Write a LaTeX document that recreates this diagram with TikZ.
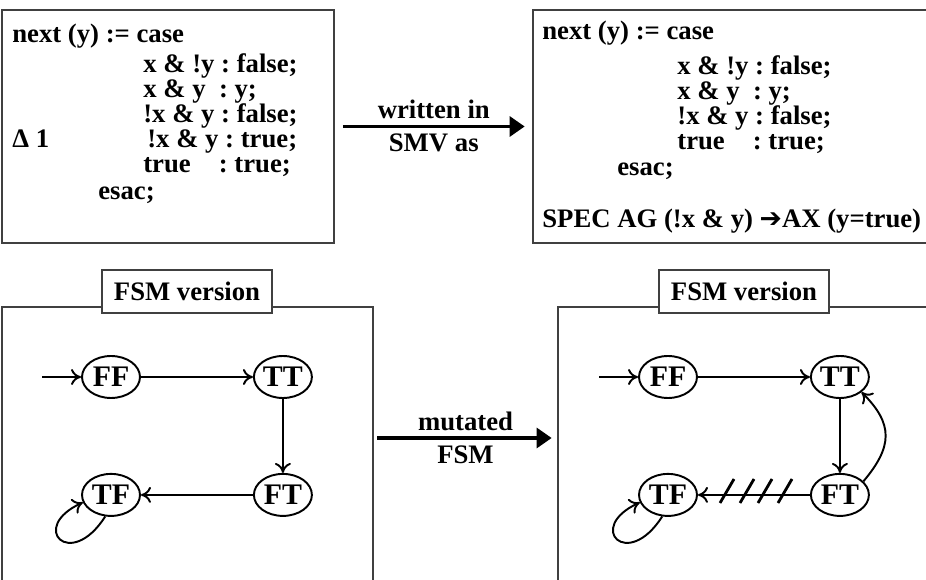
\documentclass[tikz,border=0pt]{standalone}
\usepackage{fontspec}
\setmainfont{Liberation Serif}
\newfontfamily\arrowfont{DejaVu Sans}
\usetikzlibrary{arrows.meta, positioning, shapes.geometric, fit}
\frenchspacing

\begin{document}
\begin{tikzpicture}[
    x=0.02cm, y=-0.02cm,
    font=\bfseries\fontsize{15.2}{18}\selectfont,
    code/.style={anchor=base west, inner sep=0pt},
    codebox/.style={draw=black!75, line width=1pt, inner sep=0pt},
    frame/.style={draw=black!75, line width=1pt},
    caption/.style={draw=black!75, line width=1pt, fill=white, minimum width=3.4cm, minimum height=0.86cm, inner sep=0pt},
    state/.style={ellipse, draw, line width=1.1pt, minimum width=1.16cm, minimum height=0.84cm, inner sep=0pt, font=\bfseries\fontsize{17}{20}\selectfont},
    edge/.style={line width=1.1pt, -{To[length=2mm, width=3.2mm]}},
    bigarrow/.style={line width=1.8pt, -{Triangle[length=3mm, width=4mm]}},
    hatch/.style={line width=1.6pt},
    node distance=1.48cm and 2.24cm
]
    \useasboundingbox (0,0) rectangle (926,580);
    \coordinate (bot) at (0,580);

    % SMV code, original and mutated
    \node[codebox, fit={(2,10) (334,243)}] (smvleft) {};
    \node[fit={(533,10) (926,243)}, inner sep=0pt] (smvright) {};
    \draw[frame] (smvright.north east) -- (smvright.north west) -- (smvright.south west) -- (smvright.south east);

    \node[code] (la1) at (12,43) {next (y) := case};
    \node[code] (la2) at (143,73) {x \& !y : false;};
    \node[code] (la3) at (143,98) {x \& y\ \ : y;};
    \node[code] (la4) at (143,123) {!x \& y : false;};
    \node[code] (delta) at (12,148) {Δ 1};
    \node[code] (la5) at (147,148) {!x \& y : true;};
    \node[code] (la6) at (143,173) {true\hspace{0.8em} : true;};
    \node[code] (la7) at (98,200) {esac;};

    \node[code] (lb1) at (542,40) {next (y) := case};
    \node[code] (lb2) at (677,75) {x \& !y : false;};
    \node[code] (lb3) at (677,100) {x \& y\ \ : y;};
    \node[code] (lb4) at (677,125) {!x \& y : false;};
    \node[code] (lb5) at (677,150) {true\hspace{0.8em} : true;};
    \node[code] (lb6) at (617,176) {esac;};
    \node[code] (spec) at (542,228) {SPEC AG (!x \& y) {\arrowfont\bfseries ➔}AX (y=true)};

    \draw[bigarrow, shorten <=0.16cm, shorten >=0.16cm] (smvleft) -- node[above] (written) {written in} node[below] (smvas) {SMV as} (smvright);

    % FSM panels
    \node[fit={(2,307) (373,569)}, inner sep=0pt] (fsmleft) {};
    \node[fit={(558,307) (926,569)}, inner sep=0pt] (fsmright) {};
    \draw[frame] (fsmleft.north west |- bot) -- (fsmleft.north west) -- (fsmleft.north east) -- (fsmleft.north east |- bot);
    \draw[frame] (fsmright.north west |- bot) -- (fsmright.north west) -- (fsmright.north east);
    \node[caption] (capleft) at (187,291.5) {FSM version};
    \node[caption] (capright) at (744,291.5) {FSM version};

    \draw[bigarrow, shorten <=0.08cm, shorten >=0.12cm] (fsmleft) -- node[above] (mutated) {mutated} node[below] (fsmlbl) {FSM} (fsmright);

    % original FSM
    \node[state] (ffl) at (111,377) {FF};
    \node[state, right=of ffl] (ttl) {TT};
    \node[state, below=of ttl] (ftl) {FT};
    \node[state, left=of ftl] (tfl) {TF};
    \coordinate[left=0.78cm of ffl] (initl);
    \draw[edge] (initl) -- (ffl);
    \draw[edge] (ffl) -- (ttl);
    \draw[edge] (ttl) -- (ftl);
    \draw[edge] (ftl) -- (tfl);
    \draw[edge] (tfl.255) .. controls +(-35,55) and +(-55,25) .. (tfl.195);

    % mutated FSM
    \node[state] (ffr) at (668,377) {FF};
    \node[state, right=of ffr] (ttr) {TT};
    \node[state, below=of ttr] (ftr) {FT};
    \node[state, left=of ftr] (tfr) {TF};
    \coordinate[left=0.78cm of ffr] (initr);
    \draw[edge] (initr) -- (ffr);
    \draw[edge] (ffr) -- (ttr);
    \draw[edge] (ttr) -- (ftr);
    \draw[edge] (ftr) -- (tfr);
    \draw[edge] (tfr.255) .. controls +(-35,55) and +(-55,25) .. (tfr.195);
    \draw[edge] (ftr.30) to[out=50, in=-45, looseness=1.3] (ttr.-35);
    \foreach \hx in {727,747,765,785}
        \draw[hatch] (\hx-7,503) -- (\hx+7,479);
\end{tikzpicture}
\end{document}
